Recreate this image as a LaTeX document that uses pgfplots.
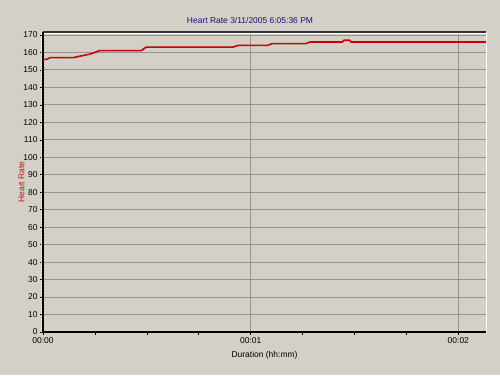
\documentclass[border=0pt]{standalone}
\usepackage{pgfplots}
\pgfplotsset{compat=1.18}
\usepackage{fontspec}
\setmainfont{Liberation Sans}
\definecolor{winbg}{RGB}{212,208,200}
\definecolor{gridc}{RGB}{150,146,140}
\definecolor{vgridc}{RGB}{110,108,104}
\definecolor{hrred}{RGB}{204,0,0}
\definecolor{titleblue}{RGB}{20,20,120}
\definecolor{labred}{RGB}{190,20,20}
\begin{document}
\begin{tikzpicture}[x=1bp,y=1bp]
\fill[winbg] (0,0) rectangle (500,375);
\node[font=\fontsize{8.5}{10}\selectfont, text=titleblue] at (250,355) {Heart Rate 3/11/2005 6:05:36 PM};
\begin{axis}[
  at={(43bp,43bp)}, anchor=south west,
  width=443bp, height=300bp, scale only axis,
  xmin=0, xmax=128, ymin=0, ymax=171.7,
  axis line style={draw=none},
  axis background/.style={fill=winbg},
  ytick={0,10,...,170},
  xtick={0,60,120},
  xticklabels={00:00,00:01,00:02},
  minor xtick={15,30,45,75,90,105},
  xtick pos=bottom, ytick pos=left,
  tick align=outside,
  major tick length=3bp, minor tick length=3bp,
  tick style={black, line width=0.6pt},
  ymajorgrids, xmajorgrids,
  major grid style={gridc, line width=0.9pt},
  /pgf/number format/assume math mode=true,
  ticklabel style={font=\fontsize{8.5}{10}\selectfont},
  yticklabel style={xshift=1bp},
  xticklabel style={yshift=1bp},
  xlabel={Duration (hh:mm)},
  ylabel={\textcolor{labred}{Heart Rate}},
  label style={font=\fontsize{8.5}{10}\selectfont},
  xlabel style={yshift=-1bp},
  ylabel style={yshift=-8bp},
  clip=false,
]
% frame
\draw[white, line width=1pt] (rel axis cs:1,0) -- (rel axis cs:1,1);
\draw[black!80, line width=1.2pt] (rel axis cs:0,1) -- (rel axis cs:1,1);
\draw[white, line width=0.6pt] ([yshift=-1.2bp]rel axis cs:0,1) -- ([yshift=-1.2bp]rel axis cs:1,1);
\draw[black, line width=2pt] (rel axis cs:0,0) -- (rel axis cs:1,0);
\draw[black, line width=2pt] (rel axis cs:0,0) -- (rel axis cs:0,1);
\draw[white, line width=0.6pt, dash pattern=on 1.5bp off 1.5bp] ([xshift=-1.6bp]rel axis cs:0,0) -- ([xshift=-1.6bp]rel axis cs:0,1);
\addplot[hrred, line width=1.6pt] coordinates {
(0,156) (1,156) (2,157) (8.7,157) (11,158) (13.5,159) (15,160) (16.2,161)
(28.3,161) (29.8,163) (54.7,163) (56.4,164) (64.8,164) (66.2,165)
(75.8,165) (77.2,166) (86.5,166) (87,167) (88.6,167) (89,166) (128,166)
};
\end{axis}
\end{tikzpicture}
\end{document}
